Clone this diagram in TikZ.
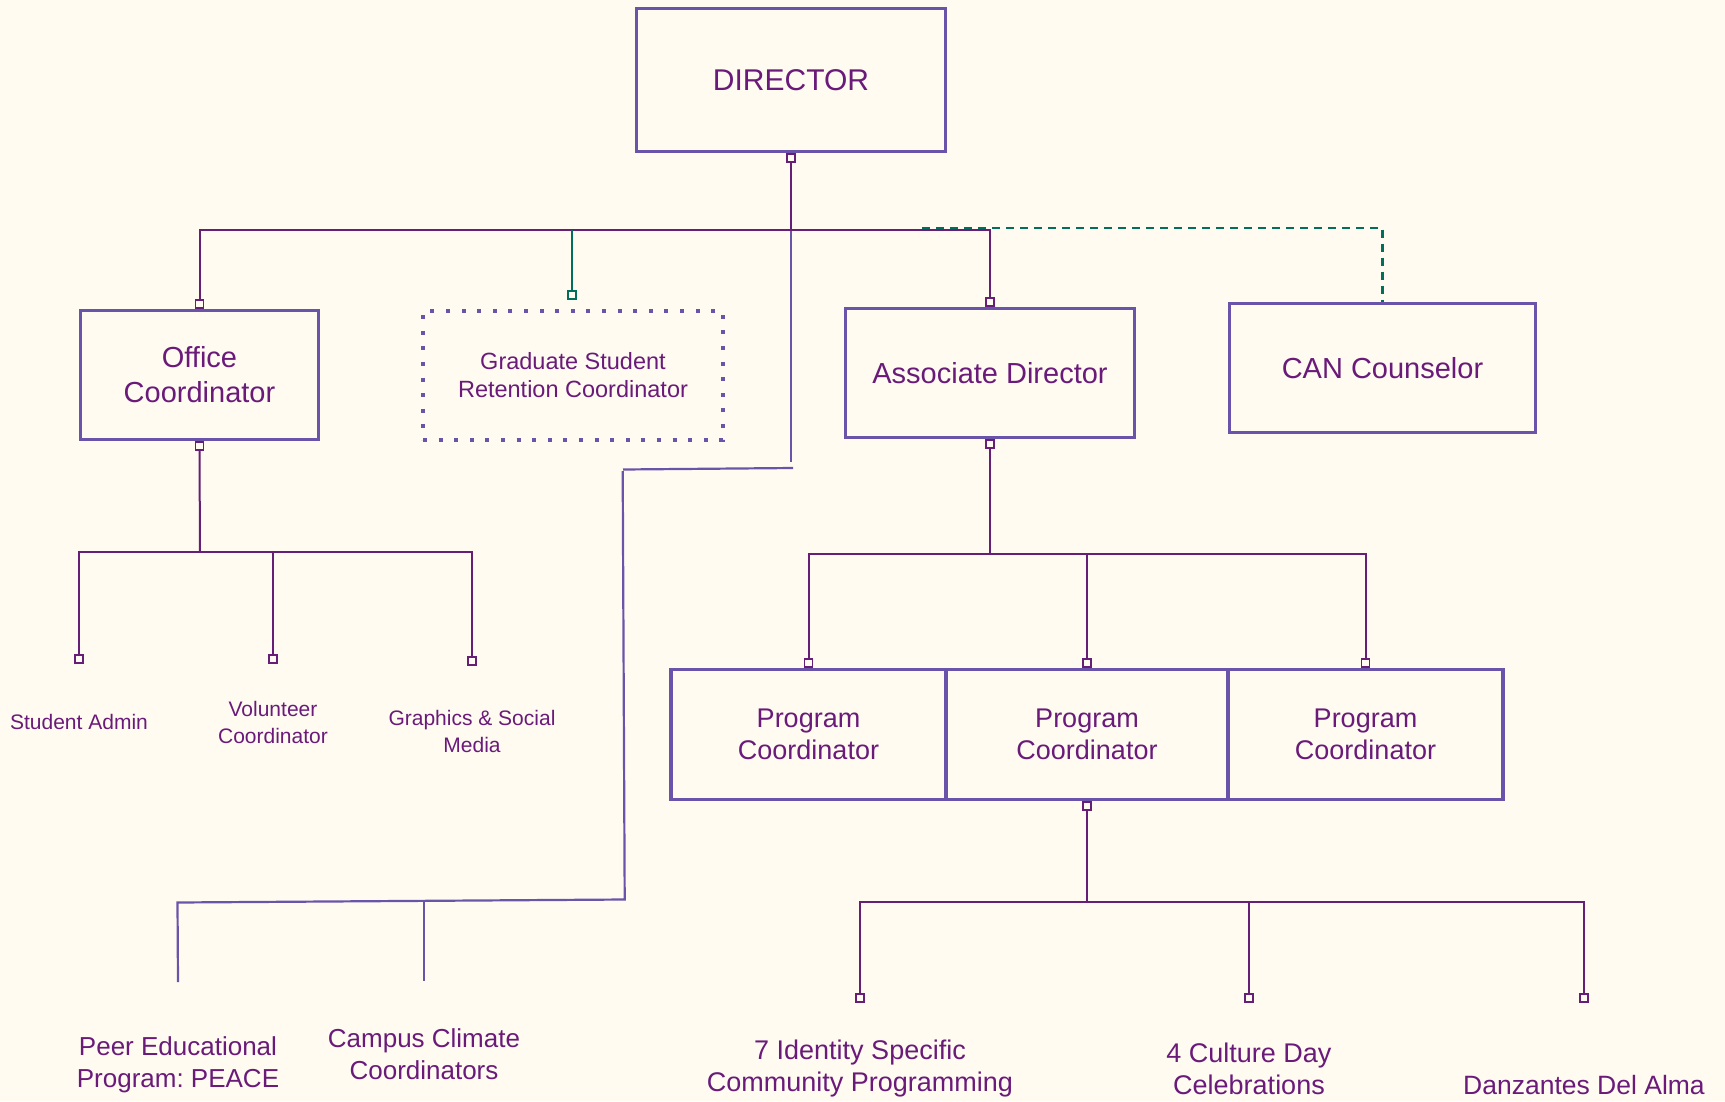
\documentclass[tikz,border=0pt]{standalone}
\usepackage{fontspec}
\setmainfont{Liberation Sans}
\usetikzlibrary{calc}
\definecolor{bgc}{RGB}{255,251,240}
\definecolor{txc}{RGB}{106,27,122}
\definecolor{bxc}{RGB}{106,84,170}
\definecolor{lnc}{RGB}{102,30,118}
\definecolor{grc}{RGB}{0,112,92}
\frenchspacing
\begin{document}
\frenchspacing
\begin{tikzpicture}[x=1pt,y=-1pt,
  box/.style={draw=bxc,line width=3.3pt,fill=bgc,inner sep=0pt,align=center,text=txc,rectangle},
  dotbox/.style={draw=bxc,line width=4pt,dash pattern=on 4pt off 11.6pt,fill=bgc,inner sep=0pt,align=center,text=txc,rectangle},
  lbl/.style={text=txc,align=center,inner sep=0pt},
  sq/.style={draw=lnc,fill=bgc,line width=1.8pt,minimum width=8pt,minimum height=8pt,inner sep=0pt,rectangle},
  gsq/.style={sq,draw=grc},
  conn/.style={draw=lnc,line width=2pt},
  lconn/.style={draw=bxc,line width=2.2pt},
  gconn/.style={draw=grc,line width=2pt},
  gdash/.style={draw=grc,line width=2.2pt,dash pattern=on 8pt off 6pt}]
\fill[bgc] (0,0) rectangle (1725,1101);
\useasboundingbox (0,0) rectangle (1725,1101);

% boxes
\node[box,minimum width=309pt,minimum height=143pt,font=\fontsize{30}{36}\selectfont] (dir) at (791,80) {DIRECTOR};
\node[box,minimum width=238pt,minimum height=129pt,font=\fontsize{29}{35}\selectfont] (off) at (199.5,375) {Office\\Coordinator};
\node[dotbox,minimum width=300pt,minimum height=129pt,font=\fontsize{23.5}{28}\selectfont] (grad) at (573,375.5) {Graduate Student\\Retention Coordinator};
\node[box,minimum width=289pt,minimum height=129pt,font=\fontsize{29}{35}\selectfont] (assoc) at (990,373) {Associate Director};
\node[box,minimum width=306pt,minimum height=129pt,font=\fontsize{29}{35}\selectfont] (can) at (1382.5,368) {CAN Counselor};
\node[box,minimum width=275pt,minimum height=130pt,font=\fontsize{27}{32}\selectfont] (pc1) at (808.5,734.5) {Program\\Coordinator};
\node[box,minimum width=282pt,minimum height=130pt,font=\fontsize{27}{32}\selectfont] (pc2) at (1087,734.5) {Program\\Coordinator};
\node[box,minimum width=275pt,minimum height=130pt,font=\fontsize{27}{32}\selectfont] (pc3) at (1365.5,734.5) {Program\\Coordinator};

% labels
\node[lbl,font=\fontsize{21}{27}\selectfont] (sa) at (79,722) {Student Admin};
\node[lbl,font=\fontsize{21}{27}\selectfont] (vc) at (273,722) {Volunteer\\Coordinator};
\node[lbl,font=\fontsize{21}{27}\selectfont] (gs) at (472,731.5) {Graphics \& Social\\Media};
\node[lbl,font=\fontsize{26}{31.5}\selectfont] (peer) at (178,1065) {Peer Educational\\Program: PEACE};
\node[lbl,font=\fontsize{26}{32}\selectfont] (camp) at (424,1054.5) {Campus Climate\\Coordinators};
\node[lbl,font=\fontsize{27}{32}\selectfont] (iden) at (860,1069) {7 Identity Specific\\Community Programming};
\node[lbl,font=\fontsize{27}{32}\selectfont] (cult) at (1249,1069) {4 Culture Day\\Celebrations};
\node[lbl,font=\fontsize{26.5}{32}\selectfont] (danz) at (1584,1085) {Danzantes Del Alma};

% connector squares
\node[sq,anchor=north] (dsq) at (dir.south) {};
\node[sq,anchor=south] (osq) at (off.north) {};
\node[sq,anchor=north] (osq2) at (off.south) {};
\node[gsq] (gsqn) at (572,295) {};
\node[sq,anchor=south] (asq) at (assoc.north) {};
\node[sq,anchor=north] (asq2) at (assoc.south) {};
\node[sq,anchor=south] (p1sq) at (pc1.north) {};
\node[sq,anchor=south] (p2sq) at (pc2.north) {};
\node[sq,anchor=south] (p3sq) at (pc3.north) {};
\node[sq,anchor=north] (p2sq2) at (pc2.south) {};
\node[sq] (sasq) at (79,659) {};
\node[sq] (vcsq) at (273,659) {};
\node[sq] (gssq) at (472,661) {};
\node[sq] (idsq) at (860,998) {};
\node[sq] (cusq) at (1249,998) {};
\node[sq] (dzsq) at (1584,998) {};

% junctions
\coordinate (j1) at (791,230);
\coordinate (j2) at (200,552);
\coordinate (j3) at (990,554);
\coordinate (j4) at (1087,902);
\coordinate (gd) at (922,228);
\coordinate (pe) at (178,982);
\coordinate (cc) at (424,981);

% director branches
\draw[lconn] (j1) -- (791,462);
\draw[lconn] (793,468) -- (623,469.5);
\draw[lconn] (622.7,471) -- (624.7,899.5) -- (177.5,902.5) -- (pe);
\draw[lconn] (424,901.5) -- (cc);
\draw[conn] (dsq.south) -- (j1);
\draw[conn] (j1) -| (osq.north);
\draw[conn] (j1) -| (asq.north);
\draw[gconn] (gsqn.north) -- (gsqn.north |- j1);
\draw[gdash] (gd) -| (can.north);

% office branches
\draw[conn] (osq2.south) -- (j2);
\draw[conn] (j2) -| (sasq.north);
\draw[conn] (j2) -| (vcsq.north);
\draw[conn] (j2) -| (gssq.north);

% associate branches
\draw[conn] (asq2.south) -- (j3);
\draw[conn] (j3) -| (p1sq.north);
\draw[conn] (j3) -| (p2sq.north);
\draw[conn] (j3) -| (p3sq.north);

% program branches
\draw[conn] (p2sq2.south) -- (j4);
\draw[conn] (j4) -| (idsq.north);
\draw[conn] (j4) -| (cusq.north);
\draw[conn] (j4) -| (dzsq.north);

% redraw squares on top
\foreach \n in {dsq,osq,osq2,asq,asq2,p1sq,p2sq,p3sq,p2sq2}{\node[sq] at (\n) {};}
\node[gsq] at (gsqn) {};
\end{tikzpicture}
\end{document}
